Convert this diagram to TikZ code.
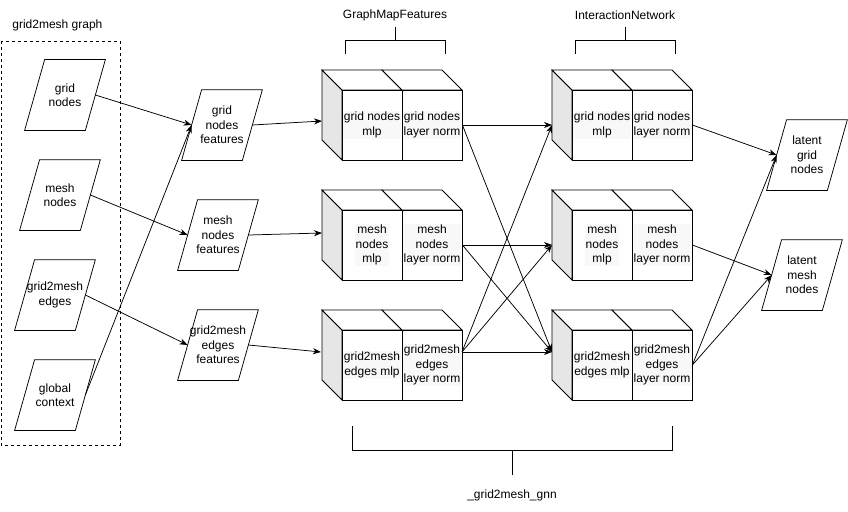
\documentclass[tikz,border=0pt]{standalone}
\usepackage{fontspec}
\setmainfont{Liberation Sans}
\usetikzlibrary{arrows.meta}
\definecolor{cubeside}{HTML}{E6E6E6}
\definecolor{labelbg}{HTML}{F8F8F8}
\newcommand\cubepair[1]{%
  \begin{scope}[shift={(#1)}]
    \draw[fill=cubeside] (0,0) -- (20,20) -- (20,90) -- (0,70) -- cycle;
    \draw[fill=white] (0,0) -- (60,0) -- (80,20) -- (20,20) -- cycle;
    \draw[fill=white] (60,0) -- (120,0) -- (140,20) -- (80,20) -- cycle;
  \end{scope}}
\begin{document}
\begin{tikzpicture}[x=1pt,y=-1pt, line width=0.75pt,
  every node/.style={font=\fontsize{12}{14.5}\selectfont},
  para/.style={minimum width=60pt, minimum height=70pt, inner sep=0pt, align=center,
    append after command={\pgfextra{\let\paranode\tikzlastnode
      \draw[line width=0.75pt] ([xshift=10pt]\paranode.north west) -- ([xshift=10pt]\paranode.north east)
        -- ([xshift=-10pt]\paranode.south east) -- ([xshift=-10pt]\paranode.south west) -- cycle;}}},
  face/.style={draw, fill=white, minimum width=60pt, minimum height=70pt, inner sep=0pt},
  lbl/.style={fill=labelbg, align=center, inner sep=0.8pt},
  plain/.style={align=center, inner sep=0pt},
  arr/.style={-{Stealth[length=8pt,width=6pt,inset=2.5pt]}},
  bracket/.style={}]
\useasboundingbox (0,0) rectangle (848,511);

% left dashed group
\draw[dash pattern=on 3pt off 3pt] (1,41) rectangle (120,445);
\node[plain, anchor=west] (grouptitle) at (12,25) {grid2mesh graph};

% input parallelograms
\node[para] (gridnodes) at (65,95) {grid\\nodes};
\node[para] (meshnodes) at (60,195) {mesh\\nodes};
\node[para] (g2medges) at (55,295) {grid2mesh\\edges};
\node[para] (globalctx) at (55,395) {global\\context};

% features
\node[para] (gridfeat) at (222,125) {grid\\nodes\\features};
\node[para] (meshfeat) at (218,235) {mesh\\nodes\\features};
\node[para] (edgefeat) at (218,345) {grid2mesh\\edges\\features};

% latent outputs
\node[para] (latgrid) at (807,155) {latent\\grid\\nodes};
\node[para] (latmesh) at (802,275) {latent\\mesh\\nodes};

% GraphMapFeatures cubes
\cubepair{322,70}
\node[face] (gmf1a) at (372,125) {};
\node[face] (gmf1b) at (432,125) {};
\node[lbl] (gmf1at) at (gmf1a) {grid nodes\\mlp};
\node[lbl] (gmf1bt) at (gmf1b) {grid nodes\\layer norm};
\cubepair{322,190}
\node[face] (gmf2a) at (372,245) {};
\node[face] (gmf2b) at (432,245) {};
\node[lbl] (gmf2at) at (gmf2a) {mesh\\nodes\\mlp};
\node[lbl] (gmf2bt) at (gmf2b) {mesh\\nodes\\layer norm};
\cubepair{322,310}
\node[face] (gmf3a) at (372,365) {};
\node[face] (gmf3b) at (432,365) {};
\node[lbl] (gmf3at) at (gmf3a) {grid2mesh\\edges mlp};
\node[lbl] (gmf3bt) at (gmf3b) {grid2mesh\\edges\\layer norm};

% InteractionNetwork cubes
\cubepair{552,70}
\node[face] (in1a) at (602,125) {};
\node[face] (in1b) at (662,125) {};
\node[lbl] (in1at) at (in1a) {grid nodes\\mlp};
\node[lbl] (in1bt) at (in1b) {grid nodes\\layer norm};
\cubepair{552,190}
\node[face] (in2a) at (602,245) {};
\node[face] (in2b) at (662,245) {};
\node[lbl] (in2at) at (in2a) {mesh\\nodes\\mlp};
\node[lbl] (in2bt) at (in2b) {mesh\\nodes\\layer norm};
\cubepair{552,310}
\node[face] (in3a) at (602,365) {};
\node[face] (in3b) at (662,365) {};
\node[lbl] (in3at) at (in3a) {grid2mesh\\edges mlp};
\node[lbl] (in3bt) at (in3b) {grid2mesh\\edges\\layer norm};

% ports
\coordinate (gin1) at (322,121);
\coordinate (gin2) at (322,233);
\coordinate (gin3) at (321,352);
\coordinate (gout3) at (462,352);
\coordinate (iin1) at (552,125);
\coordinate (iin2) at (552,245);
\coordinate (iin3) at (552,352);

% brackets
\draw[bracket] (345,54) -- (345,40) -- (445,40) -- (445,54);
\draw[bracket] (395,40) -- (395,27);
\node[plain] (gmftitle) at (395,15) {GraphMapFeatures};
\draw[bracket] (575,54) -- (575,40) -- (675,40) -- (675,54);
\draw[bracket] (625,40) -- (625,27);
\node[plain] (intitle) at (625,15) {InteractionNetwork};
\draw[bracket] (352,426) -- (352,450) -- (672,450) -- (672,426);
\draw[bracket] (512,450) -- (512,475);
\node[plain] (gnntitle) at (512,495) {\_grid2mesh\_gnn};

% connectors: inputs to features
\draw[arr] (gridnodes.east) -- (gridfeat.west);
\draw[arr] (globalctx.east) -- (gridfeat.west);
\draw[arr] (meshnodes.east) -- (meshfeat.west);
\draw[arr] (g2medges.east) -- (edgefeat.west);

% features to GraphMapFeatures
\draw[arr] (gridfeat.east) -- (gin1);
\draw[arr] (meshfeat.east) -- (gin2);
\draw[arr] (edgefeat.east) -- (gin3);

% GraphMapFeatures to InteractionNetwork
\draw[arr] (gmf1b.east) -- (iin1);
\draw[arr] (gmf1b.east) -- (iin3);
\draw[arr] (gmf2b.east) -- (iin2);
\draw[arr] (gmf2b.east) -- (iin3);
\draw[arr] (gout3) -- (iin1);
\draw[arr] (gout3) -- (iin2);
\draw[arr] (gout3) -- (iin3);

% InteractionNetwork to latent
\draw[arr] (in1b.east) -- (latgrid.west);
\draw[arr] (in2b.east) -- (latmesh.west);
\draw[arr] (in3b.east) -- (latgrid.west);
\draw[arr] (in3b.east) -- (latmesh.west);
\end{tikzpicture}
\end{document}
